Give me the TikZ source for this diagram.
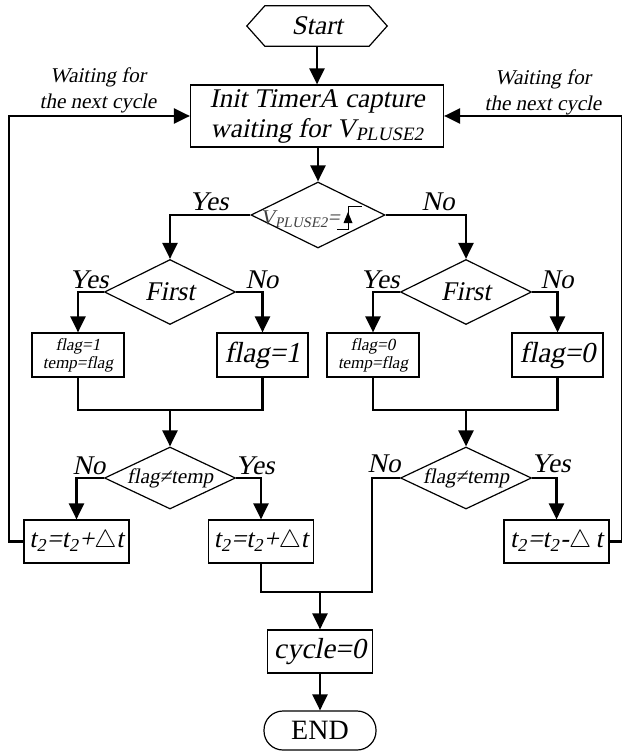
\documentclass[tikz,border=0pt]{standalone}
\usepackage{fontspec}
\setmainfont{Liberation Serif}[ItalicFont={Liberation Serif}, ItalicFeatures={FakeSlant=0.2}]
\usetikzlibrary{arrows.meta,shapes.geometric}
\newcommand{\tsub}{t\textsubscript{2}\kern1pt}
\tikzset{
  pbox/.style={draw, line width=1.2pt, rectangle, inner sep=0pt, align=center},
  dec/.style={draw, diamond, line width=1.2pt, inner sep=0pt},
  conn/.style={line width=2.5pt},
  arr/.style={conn, -{Triangle[length=16pt,width=15pt]}},
  big/.style={font=\fontsize{27}{30}\selectfont\itshape},
  tbig/.style={font=\fontsize{26}{30}\selectfont\itshape},
  mid/.style={font=\fontsize{21}{24}\selectfont\itshape},
  small/.style={font=\fontsize{17}{18}\selectfont\itshape},
  wlab/.style={font=\fontsize{21}{26}\selectfont\itshape, align=center, inner sep=0pt},
  yn/.style={font=\fontsize{27}{30}\selectfont\itshape, inner sep=0pt}
}
\begin{document}
\begin{tikzpicture}[x=1pt,y=-1pt]
\useasboundingbox (0,0) rectangle (621,751);
% start
\node[big, minimum width=140pt, minimum height=40pt, inner sep=0pt] (start) at (317,26) {Start};
\draw[line width=1.2pt] (start.west) -- ([xshift=18pt]start.north west) -- ([xshift=-18pt]start.north east) -- (start.east) -- ([xshift=-18pt]start.south east) -- ([xshift=18pt]start.south west) -- cycle;
% init
\node[pbox, big, minimum width=253pt, minimum height=62pt] (init) at (317,116) {Init TimerA capture\\waiting for V\textsubscript{PLUSE2}};
% main decision
\node[dec, minimum width=134pt, minimum height=66pt] (d0) at (318,215) {};
\node[anchor=east, inner sep=0pt, text=black!75, font=\fontsize{21}{24}\selectfont\itshape] (d0t) at (340,219) {V\textsubscript{PLUSE2}=};
\draw[line width=1pt] (337,229) -- (348,229) -- (348,207) -- (362,207);
\fill (348,212) -- (352.5,223) -- (343.5,223) -- cycle;
% first decisions
\node[dec, minimum width=131pt, minimum height=65pt] (f1) at (170,292) {};
\node[big] (f1t) at (f1) {First};
\node[dec, minimum width=131pt, minimum height=65pt] (f2) at (466,292) {};
\node[big] (f2t) at (f2) {First};
% boxes
\node[pbox, small, minimum width=92pt, minimum height=44pt] (b1) at (78,355) {flag=1\\temp=flag};
\node[pbox, font=\fontsize{29}{30}\selectfont\itshape, minimum width=91pt, minimum height=44pt] (b2) at (262.5,355) {flag=1};
\node[pbox, small, minimum width=92pt, minimum height=44pt] (b3) at (373,355) {flag=0\\temp=flag};
\node[pbox, font=\fontsize{29}{30}\selectfont\itshape, minimum width=91pt, minimum height=44pt] (b4) at (557.5,355) {flag=0};
% second decisions
\node[dec, minimum width=131pt, minimum height=62pt] (d3) at (170,478) {};
\node[mid] (d3t) at (d3) {flag≠temp};
\node[dec, minimum width=131pt, minimum height=62pt] (d4) at (466,478) {};
\node[mid] (d4t) at (d4) {flag≠temp};
% t2 boxes
\node[pbox, tbig, minimum width=105pt, minimum height=43pt] (t2a) at (76.5,541.5) {\tsub=\tsub+$\triangle$t};
\node[pbox, tbig, minimum width=105pt, minimum height=43pt] (t2b) at (261,541.5) {\tsub=\tsub+$\triangle$t};
\node[pbox, tbig, minimum width=105pt, minimum height=43pt] (t2c) at (556.5,541.5) {\tsub=\tsub-$\triangle$\,t};
% cycle and end
\node[pbox, font=\fontsize{29}{30}\selectfont\itshape, minimum width=105pt, minimum height=43pt] (cyc) at (320,651.5) {cycle=0};
\node[draw, line width=1.2pt, rounded corners=19pt, minimum width=112pt, minimum height=39pt, inner sep=0pt, font=\fontsize{28}{30}\selectfont] (end) at (320,730.5) {END};
% labels
\node[wlab] (wl) at (98,90) {Waiting for\\the next cycle};
\node[wlab] (wr) at (543,92) {Waiting for\\the next cycle};
\node[yn] (y0) at (209,202) {Yes};
\node[yn] (n0) at (438,202) {No};
\node[yn] (y1) at (89,280) {Yes};
\node[yn] (n1) at (262,280) {No};
\node[yn] (y2) at (380,280) {Yes};
\node[yn] (n2) at (557,280) {No};
\node[yn] (n3) at (89,466) {No};
\node[yn] (y3) at (255,466) {Yes};
\node[yn] (n4) at (384,464) {No};
\node[yn] (y4) at (551,464) {Yes};
% coordinates
\coordinate (m1) at (170,410);
\coordinate (m2) at (466,410);
\coordinate (m3) at (320,592);
\coordinate (k4) at (372,592);
\coordinate (lc) at (9,116);
\coordinate (rc) at (622,116);
% connectors
\draw[arr] (start) -- (init);
\draw[arr] (init.south -| d0.north) -- (d0.north);
\draw[arr] (d0.west) -| (f1.north);
\draw[arr] (d0.east) -| (f2.north);
\draw[arr] (f1.west) -| (b1.north);
\draw[arr] (f1.east) -| (b2.north);
\draw[arr] (f2.west) -| (b3.north);
\draw[arr] (f2.east) -| (b4.north);
\draw[conn] (b1.south) -- (b1.south |- m1) -- (b2.south |- m1) -- (b2.south);
\draw[conn] (b3.south) -- (b3.south |- m2) -- (b4.south |- m2) -- (b4.south);
\draw[arr] (m1) -- (d3.north);
\draw[arr] (m2) -- (d4.north);
\draw[arr] (d3.west) -| (t2a.north);
\draw[arr] (d3.east) -| (t2b.north);
\draw[arr] (d4.east) -| (t2c.north);
\draw[conn] (d4.west) -| (k4) -- (t2b.south |- k4) -- (t2b.south);
\draw[arr] (m3) -- (cyc.north);
\draw[arr] (cyc) -- (end);
\draw[arr] (t2a.west) -| (lc) -- (init.west);
\draw[arr] (t2c.east) -| (rc) -- (init.east);
\end{tikzpicture}
\end{document}
